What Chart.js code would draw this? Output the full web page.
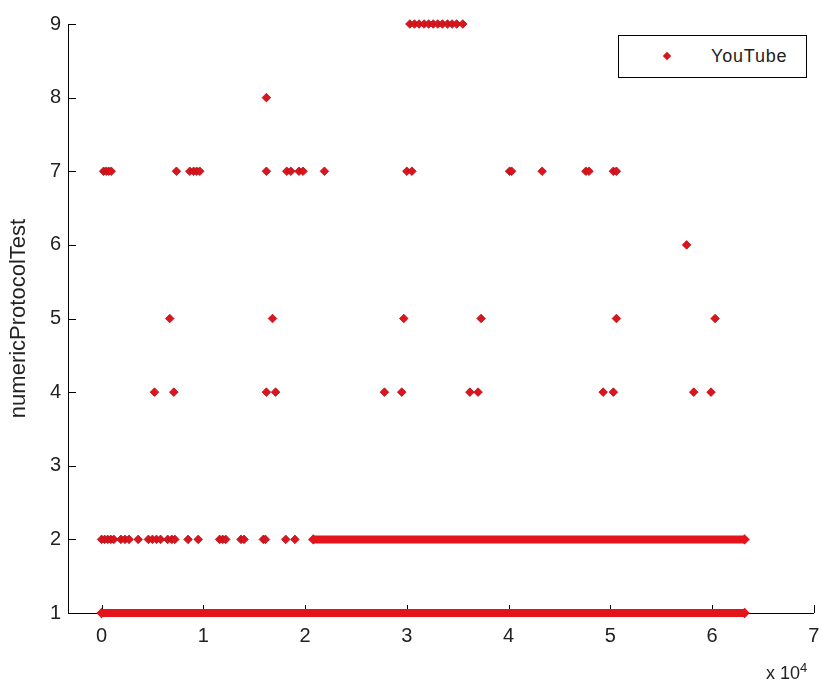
<!DOCTYPE html>
<html>
<head>
<meta charset="utf-8">
<script src="https://cdn.jsdelivr.net/npm/chart.js@4/dist/chart.umd.min.js"></script>
<style>
  html, body { margin: 0; padding: 0; background: #fff; }
  #wrap { position: relative; width: 819px; height: 687px; }
  #legend { position: absolute; left: 618px; top: 35px; width: 187px; height: 41px; border: 1px solid #000; background: #fff;
            font-family: "Liberation Sans", Arial, sans-serif; font-size: 18px; color: #222; }
  #legend .mk { position: absolute; left: 45px; top: 17px; width: 6px; height: 6px; background: #d9141b; transform: rotate(45deg); }
  #legend .tx { position: absolute; left: 92px; top: 10px; letter-spacing: 0.8px; }
  #expo { position: absolute; left: 766px; top: 660px; font-family: "Liberation Sans", Arial, sans-serif; font-size: 18px; color: #222; }
  #expo sup { font-size: 13px; }
</style>
</head>
<body>
<div id="wrap">
  <canvas id="c" width="819" height="687"></canvas>
  <div id="legend"></div>
  <div id="expo">x 10<sup>4</sup></div>
</div>
<script>
// ---- data (x values in raw units; axis shown in units of 10^4) ----
const seriesName = "YouTube";
const yTitle = "numericProtocolTest";
const xTickLabels = ["0", "1", "2", "3", "4", "5", "6", "7"];
const yTickLabels = ["1", "2", "3", "4", "5", "6", "7", "8", "9"];

// dense, continuous runs of points: [start, end]
const level1Runs = [[0, 63200]];
const level2Runs = [[20800, 63200]];

// isolated points per protocol level
const level2X = [0, 300, 600, 900, 1200, 1900, 2300, 2700, 3600, 4600, 5000, 5400, 5800, 6500, 6900, 7200, 8500, 9500, 11600, 11900, 12200, 13700, 14000, 15900, 16100, 18100, 19000];
const level4X = [5200, 7100, 16200, 17100, 27800, 29500, 36200, 37000, 49300, 50300, 58200, 59900];
const level5X = [6700, 16800, 29700, 37300, 50600, 60300];
const level6X = [57500];
const level7X = [200, 450, 700, 950, 7360, 8670, 9050, 9350, 9650, 16200, 18200, 18600, 19400, 19800, 21900, 30000, 30500, 40100, 40300, 43300, 47600, 47900, 50300, 50600];
const level8X = [16200];
const level9X = [30300, 30750, 31200, 31700, 32150, 32600, 33050, 33500, 34000, 34450, 34900, 35500];

const FILL = '#dc141c';
const EDGE = '#b0101a';

const pts = [];
[[2, level2X], [4, level4X], [5, level5X], [6, level6X], [7, level7X], [8, level8X], [9, level9X]].forEach(([lvl, xs]) => {
  xs.forEach(x => pts.push({ x: x, y: lvl }));
});

const datasets = [{
  label: seriesName,
  type: 'scatter',
  data: pts,
  pointStyle: 'rectRot',
  pointRadius: 4.3,
  pointBackgroundColor: FILL,
  pointBorderColor: EDGE,
  pointBorderWidth: 0.8,
  clip: false,
  order: 1
}];

[[1, level1Runs], [2, level2Runs]].forEach(([lvl, runs]) => {
  runs.forEach(([a, b]) => {
    datasets.push({
      label: '_run',
      type: 'line',
      data: [{ x: a, y: lvl }, { x: b, y: lvl }],
      borderColor: '#e5131a',
      borderWidth: 8,
      borderCapStyle: 'butt',
      pointStyle: 'rectRot',
      pointRadius: 5.2,
      pointBackgroundColor: '#e5131a',
      pointBorderWidth: 0,
      clip: false,
      order: 2
    });
  });
});

const inwardTicks = {
  id: 'inwardTicks',
  beforeDatasetsDraw(chart) {
    const { ctx, chartArea, scales: { x, y } } = chart;
    ctx.save();
    ctx.strokeStyle = '#000';
    ctx.lineWidth = 1;
    x.ticks.forEach(t => {
      const px = Math.round(x.getPixelForValue(t.value)) + 0.5;
      ctx.beginPath(); ctx.moveTo(px, chartArea.bottom); ctx.lineTo(px, chartArea.bottom - 8); ctx.stroke();
    });
    y.ticks.forEach(t => {
      const py = Math.round(y.getPixelForValue(t.value)) + 0.5;
      ctx.beginPath(); ctx.moveTo(chartArea.left, py); ctx.lineTo(chartArea.left + 8, py); ctx.stroke();
    });
    ctx.restore();
  }
};

const tickFont = { family: '"Liberation Sans", Arial, sans-serif', size: 20 };

new Chart(document.getElementById('c'), {
  type: 'scatter',
  data: { datasets: datasets },
  options: {
    responsive: false,
    animation: false,
    layout: { padding: { top: 24, right: 4, left: 0, bottom: 0 } },
    plugins: { legend: { display: false }, tooltip: { enabled: false } },
    scales: {
      x: {
        type: 'linear',
        min: -3300, max: 70000,
        grid: { display: false, drawTicks: false },
        border: { display: true, color: '#000', width: 1 },
        afterBuildTicks: (s) => { s.ticks = xTickLabels.map((_, i) => ({ value: i * 10000 })); },
        ticks: {
          padding: 11, color: '#222', font: tickFont, maxRotation: 0, autoSkip: false,
          callback: (v) => xTickLabels[Math.round(v / 10000)]
        },
        afterFit: (s) => { s.height = 74; s.paddingRight = 0; s.paddingLeft = 0; }
      },
      y: {
        type: 'linear',
        min: 1, max: 9,
        grid: { display: false, drawTicks: false },
        border: { display: true, color: '#000', width: 1 },
        title: { display: true, text: yTitle, color: '#222', font: { family: '"Liberation Sans", Arial, sans-serif', size: 22 }, padding: { top: 6, bottom: 0 } },
        ticks: {
          stepSize: 1, padding: 7, color: '#222', font: tickFont,
          callback: (v) => yTickLabels[Math.round(v) - 1]
        },
        afterFit: (s) => { s.width = 68; s.paddingTop = 0; s.paddingBottom = 0; }
      }
    }
  },
  plugins: [inwardTicks]
});

// HTML legend built from the series name
document.getElementById('legend').innerHTML = '<span class="mk"></span><span class="tx">' + seriesName + '</span>';
</script>
</body>
</html>
